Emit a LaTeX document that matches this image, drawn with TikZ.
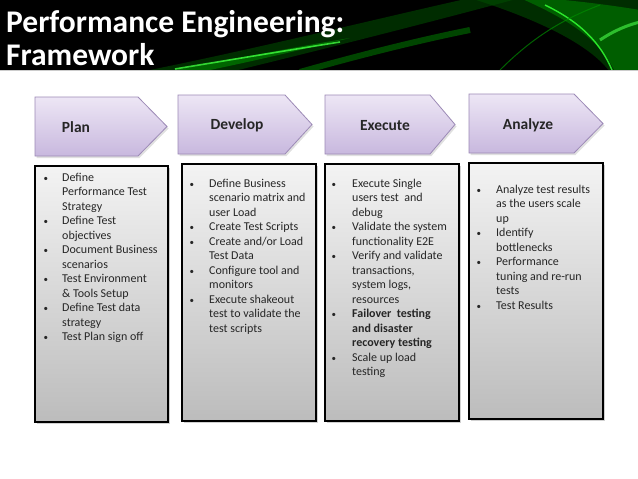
\documentclass[tikz,border=0pt]{standalone}
\usepackage{fontspec}
\setmainfont{Carlito}
\definecolor{lavtop}{HTML}{EDE6F5}
\definecolor{lavbot}{HTML}{C8B8DE}
\definecolor{lavline}{HTML}{9C8AB6}
\definecolor{boxtop}{HTML}{F3F3F3}
\definecolor{boxbot}{HTML}{BCBCBC}
\definecolor{txt}{HTML}{262626}
\newlength\ind
\newcommand{\bl}[1]{\makebox[\ind][l]{\hspace*{1.5pt}{\fontsize{9}{9}\selectfont\textbullet}}#1}
\newcommand{\cl}[1]{\hspace*{\ind}#1}
\tikzset{
  phasebox/.style={draw=lavline, line width=0.8pt, top color=lavtop, bottom color=lavbot},
  phaseshadow/.style={fill=black, opacity=0.12},
  listbox/.style={draw=black, line width=1.2pt, top color=boxtop, bottom color=boxbot},
  listshadow/.style={fill=black, opacity=0.18},
  phaselabel/.style={font=\fontsize{15.5}{18}\selectfont\bfseries, text=txt, inner sep=0pt},
  listtext/.style={anchor=north west, align=left, inner sep=0pt, text=txt, font=\fontsize{12}{14.5}\selectfont},
}
\begin{document}
\begin{tikzpicture}[x=1pt, y=-1pt]
\useasboundingbox (0,0) rectangle (638,479);
\fill[white] (0,0) rectangle (638,479);
% header
\fill[black] (0,0) rectangle (638,70);
\begin{scope}
\clip (0,0) rectangle (638,70);
\fill[green!35!black, opacity=0.5] (140,72) .. controls (260,48) and (380,18) .. (470,-2) -- (520,-2) .. controls (420,25) and (300,55) .. (230,72) -- cycle;
\fill[green!55!black, opacity=0.6] (170,71) .. controls (240,58) and (300,46) .. (350,38) .. controls (300,50) and (250,62) .. (200,72) -- cycle;
\draw[green!75!white, line width=1.6pt, opacity=0.8] (175,69) .. controls (235,59) and (290,50) .. (340,42);
\draw[green!60!black, line width=6pt, opacity=0.45] (300,72) .. controls (360,55) and (420,40) .. (470,30);
\fill[green!30!black, opacity=0.6] (470,-2) .. controls (540,20) and (590,45) .. (610,72) -- (640,72) -- (640,-2) -- cycle;
\fill[green!50!black, opacity=0.6] (520,-2) .. controls (570,20) and (600,40) .. (615,72) -- (640,72) -- (640,10) .. controls (610,5) and (570,0) .. (540,-2) -- cycle;
\draw[green!80!white, line width=1.4pt, opacity=0.85] (545,5) .. controls (580,22) and (600,42) .. (612,70);
\draw[green!70!white, line width=3pt, opacity=0.6] (600,40) .. controls (615,30) and (628,25) .. (640,22);
\draw[green!55!black, line width=1pt, opacity=0.7] (500,70) .. controls (530,40) and (560,20) .. (600,5);
\end{scope}
\draw[gray!40, line width=1pt] (0,70.5) -- (638,70.5);
\node[anchor=north west, align=left, inner sep=0pt, text=white, font=\fontsize{31.5}{33.5}\selectfont\bfseries] (title) at (6,8) {\rule{0pt}{24pt}Performance Engineering:\\Framework};
% phase arrows
\fill[phaseshadow] (36.5,99) -- (139.5,99) -- (168.5,128.5) -- (139.5,158) -- (36.5,158) -- cycle;
\draw[phasebox] (35,97) -- (138,97) -- (167,126.5) -- (138,156) -- (35,156) -- cycle;
\fill[phaseshadow] (179.5,97) -- (286.5,97) -- (313.5,126.5) -- (286.5,156) -- (179.5,156) -- cycle;
\draw[phasebox] (178,95) -- (285,95) -- (312,124.5) -- (285,154) -- (178,154) -- cycle;
\fill[phaseshadow] (326.5,97) -- (431.5,97) -- (456.5,126.5) -- (431.5,156) -- (326.5,156) -- cycle;
\draw[phasebox] (325,95) -- (430,95) -- (455,124.5) -- (430,154) -- (325,154) -- cycle;
\fill[phaseshadow] (470.5,96) -- (575.5,96) -- (604.5,125.5) -- (575.5,155) -- (470.5,155) -- cycle;
\draw[phasebox] (469,94) -- (574,94) -- (603,123.5) -- (574,153) -- (469,153) -- cycle;
\node[phaselabel] (plan) at (76,127) {Plan};
\node[phaselabel] (develop) at (237,125) {Develop};
\node[phaselabel] (execute) at (385,126) {Execute};
\node[phaselabel] (analyze) at (528,125) {Analyze};
% list boxes
\fill[listshadow] (37,168) rectangle (170,424);
\draw[listbox] (35,166) rectangle (168,422);
\fill[listshadow] (184,166) rectangle (318,423);
\draw[listbox] (182,164) rectangle (316,421);
\fill[listshadow] (327,166) rectangle (461,423);
\draw[listbox] (325,164) rectangle (459,421);
\fill[listshadow] (471,165) rectangle (605,421);
\draw[listbox] (469,163) rectangle (603,419);
\node[listtext] (plantext) at (42,171) {\global\ind=20pt\rule{0pt}{10pt}\bl{Define}\\
\cl{Performance Test}\\
\cl{Strategy}\\
\bl{Define Test}\\
\cl{objectives}\\
\bl{Document Business}\\
\cl{scenarios}\\
\bl{Test Environment}\\
\cl{\& Tools Setup}\\
\bl{Define Test data}\\
\cl{strategy}\\
\bl{Test Plan sign off}};
\node[listtext] (developtext) at (188,177) {\global\ind=21pt\rule{0pt}{10pt}\bl{Define Business}\\
\cl{scenario matrix and}\\
\cl{user Load}\\
\bl{Create Test Scripts}\\
\bl{Create and/or Load}\\
\cl{Test Data}\\
\bl{Configure tool and}\\
\cl{monitors}\\
\bl{Execute shakeout}\\
\cl{test to validate the}\\
\cl{test scripts}};
\node[listtext] (executetext) at (330,177) {\global\ind=22pt\rule{0pt}{10pt}\bl{Execute Single}\\
\cl{users test\ \ and}\\
\cl{debug}\\
\bl{Validate the system}\\
\cl{functionality E2E}\\
\bl{Verify and validate}\\
\cl{transactions,}\\
\cl{system logs,}\\
\cl{resources}\\
\bl{\textbf{Failover\ \ testing}}\\
\cl{\textbf{and disaster}}\\
\cl{\textbf{recovery testing}}\\
\bl{Scale up load}\\
\cl{testing}};
\node[listtext] (analyzetext) at (475,183) {\global\ind=21pt\rule{0pt}{10pt}\bl{Analyze test results}\\
\cl{as the users scale}\\
\cl{up}\\
\bl{Identify}\\
\cl{bottlenecks}\\
\bl{Performance}\\
\cl{tuning and re-run}\\
\cl{tests}\\
\bl{Test Results}};
\end{tikzpicture}
\end{document}
